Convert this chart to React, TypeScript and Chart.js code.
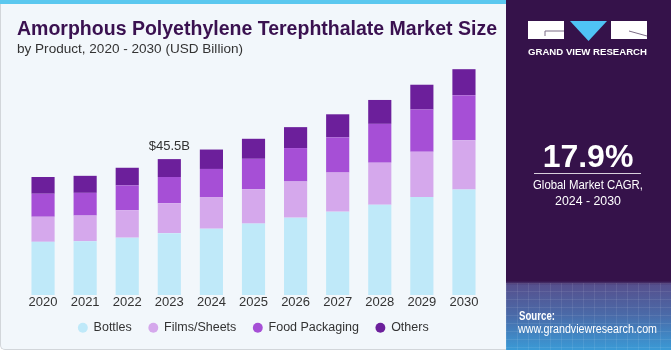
import React, { useEffect, useRef } from "react";
import { Chart, registerables } from "chart.js";

Chart.register(...registerables);

const years = ["2020", "2021", "2022", "2023", "2024", "2025", "2026", "2027", "2028", "2029", "2030"];
const bottles = [17.8, 18.0, 19.2, 20.7, 22.2, 23.9, 25.9, 27.9, 30.2, 32.8, 35.3];
const filmsSheets = [8.4, 8.6, 9.2, 10.0, 10.6, 11.5, 12.1, 13.1, 14.1, 15.2, 16.5];
const foodPackaging = [7.7, 7.6, 8.3, 8.8, 9.4, 10.2, 11.2, 11.8, 13.0, 14.1, 15.1];
const others = [5.6, 5.7, 5.9, 6.0, 6.5, 6.7, 7.0, 7.7, 8.0, 8.3, 8.7];
const seriesNames = ["Bottles", "Films/Sheets", "Food Packaging", "Others"];
const seriesColors = ["#bfe9f9", "#d5a8ec", "#a64fd6", "#6c1f9b"];
const annotatedIndex = 3;
const annotatedLabel = "$45.5B";
const yMax = 76;

const FONT = '"Liberation Sans", Arial, sans-serif';

const valueLabelPlugin = {
  id: "valueLabel",
  afterDatasetsDraw(chart: any) {
    const meta = chart.getDatasetMeta(chart.data.datasets.length - 1);
    const el = meta.data[annotatedIndex];
    if (!el) return;
    const ctx = chart.ctx;
    ctx.save();
    ctx.font = `13px ${FONT}`;
    ctx.fillStyle = "#333333";
    ctx.textAlign = "center";
    ctx.textBaseline = "alphabetic";
    ctx.fillText(annotatedLabel, el.x, el.y - 9);
    ctx.restore();
  },
};

const legendShiftPlugin = {
  id: "legendShift",
  afterLayout(chart: any) {
    const lg = chart.legend;
    if (!lg) return;
    const h = lg.height;
    lg.top = 304.5;
    lg.bottom = 304.5 + h;
  },
};

function BarChart() {
  const ref = useRef<HTMLCanvasElement | null>(null);
  useEffect(() => {
    if (!ref.current) return;
    const data = [bottles, filmsSheets, foodPackaging, others];
    const chart = new Chart(ref.current, {
      type: "bar",
      data: {
        labels: years,
        datasets: data.map((d, i) => ({
          label: seriesNames[i],
          data: d,
          backgroundColor: seriesColors[i],
          borderWidth: 0,
        })),
      },
      options: {
        animation: false,
        responsive: false,
        maintainAspectRatio: false,
        layout: { padding: { left: 22, right: 21, top: 68, bottom: 9.5 } },
        datasets: { bar: { categoryPercentage: 1, barPercentage: 0.55 } } as any,
        scales: {
          x: {
            stacked: true,
            grid: { display: false, drawTicks: false },
            border: { display: false },
            ticks: { color: "#333333", font: { size: 13, family: FONT }, padding: 0 },
            afterFit: (scale: any) => {
              scale.height = 16;
            },
          },
          y: { stacked: true, display: false, min: 0, max: yMax },
        },
        plugins: {
          legend: {
            position: "bottom",
            labels: {
              usePointStyle: true,
              pointStyle: "circle",
              boxWidth: 9,
              boxHeight: 7,
              padding: 17,
              color: "#333333",
              font: { size: 12.5, family: FONT },
            },
          },
          tooltip: { enabled: false },
        },
      },
      plugins: [valueLabelPlugin, legendShiftPlugin],
    });
    return () => chart.destroy();
  }, []);
  return <canvas ref={ref} width={506} height={360} style={{ position: "absolute", left: 0, top: 0, width: 506, height: 360 }} />;
}

export default function App() {
  return (
    <div style={{ position: "fixed", left: 0, top: 0, width: 671, height: 350, overflow: "hidden", background: "#ffffff", fontFamily: FONT }}>
      <div
        style={{
          position: "absolute",
          left: 0,
          top: 0,
          width: 506,
          height: 350,
          boxSizing: "border-box",
          background: "#f2f7fb",
          borderLeft: "1px solid #d2d6da",
          borderBottom: "1px solid #d2d6da",
          borderBottomLeftRadius: 5,
        }}
      />
      <div style={{ position: "absolute", left: 0, top: 0, width: 506, height: 4, background: "#5bc8ef" }} />
      <div
        style={{
          position: "absolute",
          left: 506,
          top: 0,
          width: 165,
          height: 350,
          background:
            "linear-gradient(to bottom, #35124a 0px, #35124a 281px, #56508e 285px, #4a6aa8 315px, #3a9ad6 350px)",
        }}
      />
      <div
        style={{
          position: "absolute",
          left: 506,
          top: 283,
          width: 165,
          height: 67,
          background:
            "repeating-linear-gradient(to right, rgba(255,255,255,0.08) 0px, rgba(255,255,255,0.08) 1px, transparent 1px, transparent 11px), repeating-linear-gradient(to bottom, rgba(255,255,255,0.08) 0px, rgba(255,255,255,0.08) 1px, transparent 1px, transparent 8px)",
        }}
      />
      <BarChart />
      <svg width={671} height={350} style={{ position: "absolute", left: 0, top: 0, pointerEvents: "none" }}>
        <text x={17} y={35} fontFamily={FONT} fontWeight="bold" fontSize={20} fill="#3a1150" textLength={480} lengthAdjust="spacingAndGlyphs">
          Amorphous Polyethylene Terephthalate Market Size
        </text>
        <text x={17} y={53} fontFamily={FONT} fontSize={13} fill="#333333" textLength={226} lengthAdjust="spacingAndGlyphs">
          by Product, 2020 - 2030 (USD Billion)
        </text>
        <rect x={528} y={21} width={36} height={18} fill="#ffffff" />
        <polyline points="564,31 545,31 545,36" fill="none" stroke="#7b6c86" strokeWidth={1} />
        <polygon points="570,21 607,21 588.5,41" fill="#4fc3f5" />
        <rect x={611} y={21} width={36} height={18} fill="#ffffff" />
        <line x1={629} y1={31} x2={647} y2={36} stroke="#7b6c86" strokeWidth={1} />
        <text x={528} y={55} fontFamily={FONT} fontWeight="bold" fontSize={9} fill="#ffffff" textLength={119} lengthAdjust="spacingAndGlyphs">
          GRAND VIEW RESEARCH
        </text>
        <text x={588} y={167} fontFamily={FONT} fontWeight="bold" fontSize={32} fill="#ffffff" textAnchor="middle">
          17.9%
        </text>
        <line x1={534} y1={173.5} x2={641} y2={173.5} stroke="#d8d0dc" strokeWidth={1} />
        <text x={588} y={189} fontFamily={FONT} fontSize={12.5} fill="#ffffff" textAnchor="middle" textLength={110} lengthAdjust="spacingAndGlyphs">
          Global Market CAGR,
        </text>
        <text x={588} y={205} fontFamily={FONT} fontSize={12.5} fill="#ffffff" textAnchor="middle" textLength={66} lengthAdjust="spacingAndGlyphs">
          2024 - 2030
        </text>
        <text x={519} y={320} fontFamily={FONT} fontWeight="bold" fontSize={12} fill="#ffffff" textLength={36} lengthAdjust="spacingAndGlyphs">
          Source:
        </text>
        <text x={518} y={333} fontFamily={FONT} fontSize={12} fill="#ffffff" textLength={139} lengthAdjust="spacingAndGlyphs">
          www.grandviewresearch.com
        </text>
      </svg>
    </div>
  );
}
